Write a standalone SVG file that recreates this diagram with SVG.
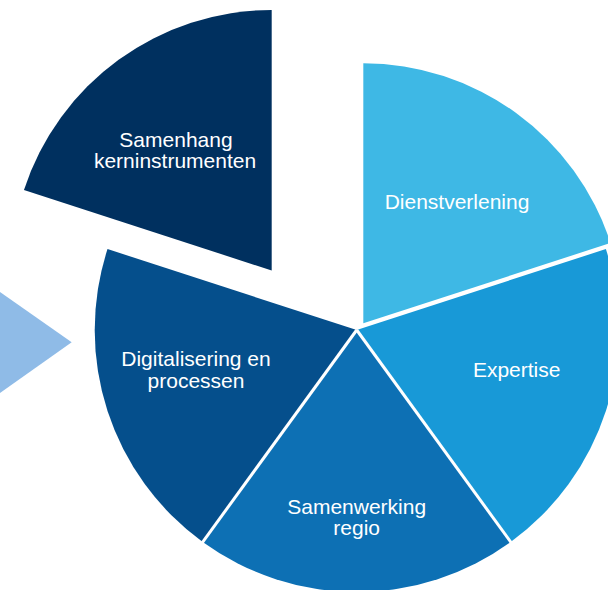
<svg xmlns="http://www.w3.org/2000/svg" width="608" height="590" viewBox="0 0 608 590">
<style>
text{font-family:"Liberation Sans",Arial,sans-serif;font-size:21px;fill:#fff;text-anchor:middle}
.sep{stroke:#fff;stroke-width:3;fill:none}
</style>
<rect x="0" y="0" width="608" height="590" fill="#fff"/>
<g id="arrow"><polygon points="-10,285 71.7,342.3 -10,400" fill="#8FBBE7"/></g>
<g id="samenhang">
<path d="M271.7 270.5 L23.95 190 A260.5 260.5 0 0 1 271.7 10 Z" fill="#00305F"/>
<text x="176" y="146.7">Samenhang</text>
<text x="175" y="168.3">kerninstrumenten</text>
</g>
<g id="dienstverlening">
<path d="M363.3 323.3 L363.3 63.3 A260 260 0 0 1 610.57 242.96 Z" fill="#3EB8E5"/>
<text x="457" y="209.3">Dienstverlening</text>
</g>
<g id="expertise">
<path d="M356.7 330 L605.87 249.04 A262 262 0 0 1 510.7 541.96 Z" fill="#1899D7"/>
<text x="516.7" y="377">Expertise</text>
</g>
<g id="samenwerking">
<path d="M356.7 330 L510.7 541.96 A262 262 0 0 1 202.7 541.96 Z" fill="#0D70B4"/>
<text x="356.7" y="514">Samenwerking</text>
<text x="356.7" y="535">regio</text>
</g>
<g id="digitalisering">
<path d="M356.7 330 L202.7 541.96 A262 262 0 0 1 107.53 249.04 Z" fill="#054F8C"/>
<text x="196" y="366">Digitalisering en</text>
<text x="196" y="387.5">processen</text>
</g>
<g id="connectors">
<line class="sep" x1="356.7" y1="330" x2="512" y2="543.8"/>
<line class="sep" x1="356.7" y1="330" x2="201.4" y2="543.8"/>
</g>
</svg>
